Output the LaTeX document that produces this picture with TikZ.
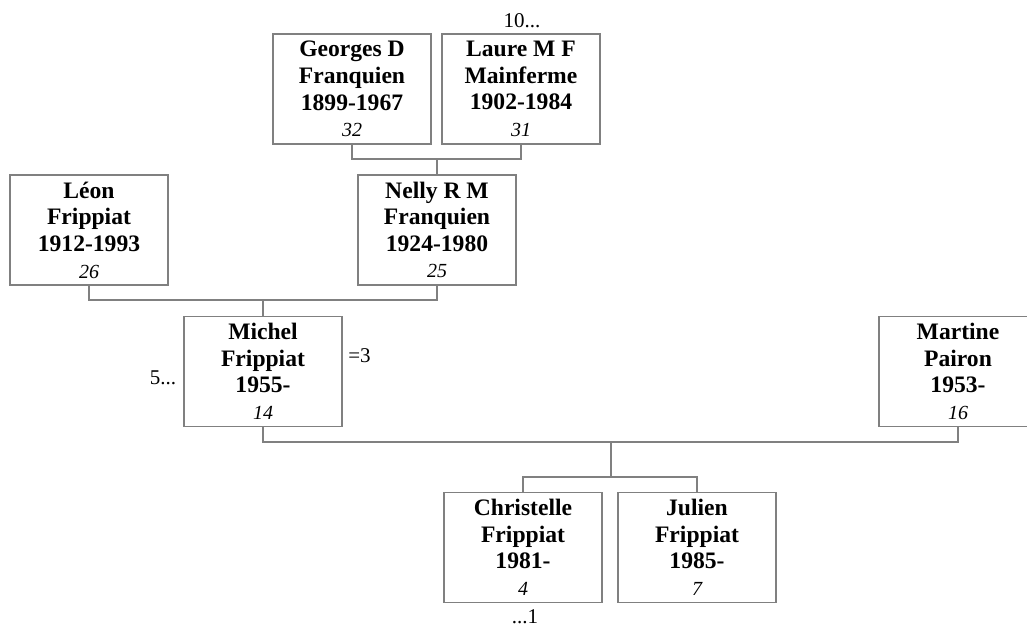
\documentclass[tikz,border=0pt]{standalone}
\usepackage{fontspec}
\setmainfont{Liberation Serif}
\tikzset{
	person/.style={draw=black!50, line width=0.6pt, minimum width=79pt, minimum height=55pt, inner sep=0pt, align=center, font=\fontsize{11.8}{13.3}\selectfont\bfseries},
	link/.style={draw=black!50, line width=0.6pt},
	tag/.style={inner sep=0pt, font=\fontsize{10.5}{12}\selectfont}
}
\newcommand{\refno}[1]{{\fontsize{10}{12}\selectfont\mdseries\itshape #1}}

\begin{document}
\begin{tikzpicture}[x=0.5pt, y=-0.5pt]
			%%%%% START %%%%%
			
			\useasboundingbox (0, 0) rectangle (1027, 627);
			
			% grandparents
			\node[person] (geo) at (352, 89) {Georges D\\Franquien\\1899-1967\\\refno{32}};
			\node[person] (lau) at (521, 89) {Laure M F\\Mainferme\\1902-1984\\\refno{31}};
			\node[tag] (lauNote) at (522, 21) {10...};
			
			% parents
			\node[person] (leo) at (89, 230) {Léon\\Frippiat\\1912-1993\\\refno{26}};
			\node[person] (nel) at (437, 230) {Nelly R M\\Franquien\\1924-1980\\\refno{25}};
			
			\node[person] (mic) at (263, 371.5) {Michel\\Frippiat\\1955-\\\refno{14}};
			\node[tag] (micLeft) at (163, 378) {5...};
			\node[tag, anchor=west] (micRight) at (348, 356) {=3};
			\node[person] (mar) at (958, 371.5) {Martine\\Pairon\\1953-\\\refno{16}};
			
			% children
			\node[person] (chr) at (523, 547.5) {Christelle\\Frippiat\\1981-\\\refno{4}};
			\node[tag] (chrNote) at (525, 617) {...1};
			\node[person] (jul) at (697, 547.5) {Julien\\Frippiat\\1985-\\\refno{7}};
			
			\coordinate (gl) at (437, 159);
			\coordinate (ln) at (263, 300);
			\coordinate (mm) at (611, 442);
			\coordinate (kids) at (611, 477);
			
			\draw[link] (geo.south) |- (gl) -| (lau.south);
			\draw[link] (gl) -- (nel.north);
			
			\draw[link] (leo.south) |- (ln) -| (nel.south);
			\draw[link] (ln) -- (mic.north);
			
			\draw[link] (mic.south) |- (mm) -| (mar.south);
			\draw[link] (mm) -- (kids);
			\draw[link] (chr.north) |- (kids) -| (jul.north);
			
			%%%%% END %%%%%
\end{tikzpicture}
\end{document}
